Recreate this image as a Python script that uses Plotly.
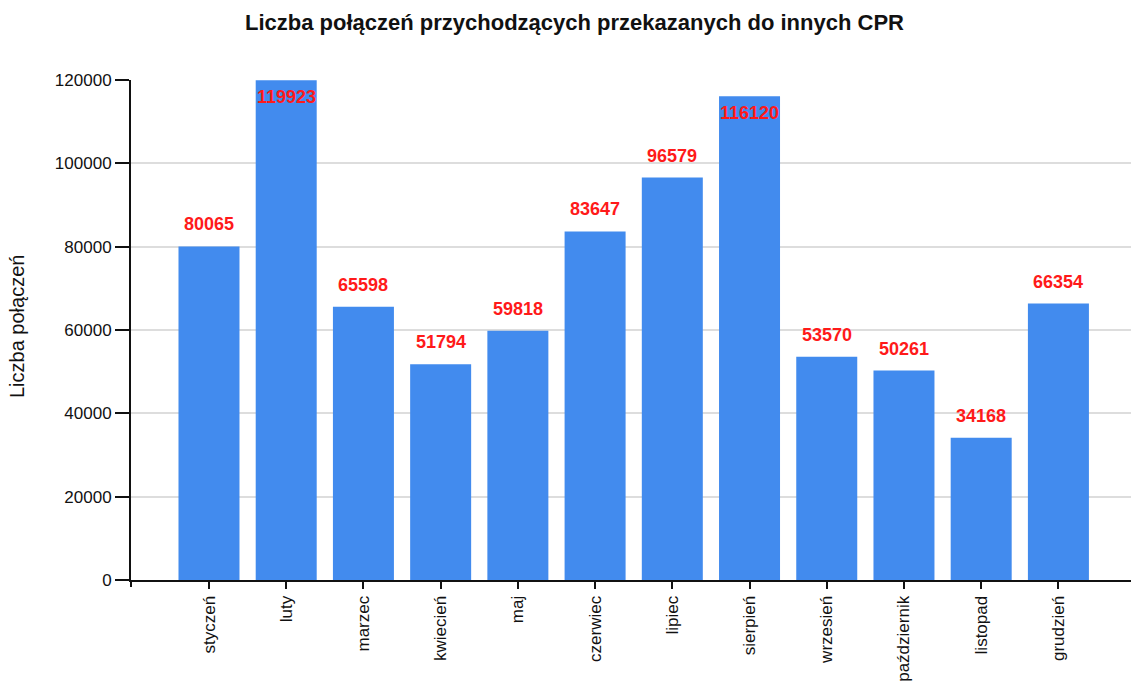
import plotly.graph_objects as go

months = ["styczeń", "luty", "marzec", "kwiecień", "maj", "czerwiec", "lipiec",
          "sierpień", "wrzesień", "październik", "listopad", "grudzień"]
values = [80065, 119923, 65598, 51794, 59818, 83647, 96579, 116120, 53570, 50261, 34168, 66354]
y_ticks = [0, 20000, 40000, 60000, 80000, 100000, 120000]

Y_MAX = 120000
FONT = "Liberation Sans, Arial, sans-serif"

fig = go.Figure()
fig.add_trace(go.Bar(
    x=months, y=values,
    marker=dict(color="#428BEE", line=dict(width=0)),
    hoverinfo="x+y",
))

# value labels: above bar, or inside if it would exceed chart top
for m, v in zip(months, values):
    inside = v > 110000
    fig.add_annotation(
        x=m, y=v, text="<b>%d</b>" % v, showarrow=False,
        yshift=-17 if inside else 22,
        font=dict(family=FONT, size=18, color="#FF1A1A"),
        xanchor="center", yanchor="middle",
    )

# y axis title
fig.add_annotation(
    xref="paper", yref="paper", x=-0.114, y=0.506,
    text="Liczba połączeń", textangle=-90, showarrow=False,
    xanchor="center", yanchor="middle",
    font=dict(family=FONT, size=20, color="#111111"),
)
# outer tick at left end of x axis
fig.add_shape(type="line", xref="paper", yref="paper",
              x0=0, x1=0, y0=0, y1=-7 / 500,
              line=dict(color="#111111", width=2))

fig.update_layout(
    width=1131, height=699,
    margin=dict(l=131, r=0, t=80, b=119, autoexpand=False),
    paper_bgcolor="white", plot_bgcolor="white",
    bargap=0.21,
    showlegend=False,
    title=dict(
        text="<b>Liczba połączeń przychodzących przekazanych do innych CPR</b>",
        x=574.5 / 1131, xanchor="center", y=1 - 22 / 699, yanchor="middle",
        font=dict(family=FONT, size=22, color="#111111"),
    ),
    font=dict(family=FONT, size=17, color="#111111"),
)

fig.update_xaxes(
    type="category",
    range=[-1.01, 11.94],
    tickangle=-90,
    ticks="outside", ticklen=7, tickcolor="#111111", tickwidth=2,
    showline=True, linecolor="#111111", linewidth=2,
    showgrid=False, automargin=False,
    tickfont=dict(family=FONT, size=17, color="#111111"),
)
fig.update_yaxes(
    range=[0, Y_MAX],
    tickvals=y_ticks,
    ticktext=[str(t) for t in y_ticks],
    ticks="outside", ticklen=14, tickcolor="#111111", tickwidth=2,
    showline=True, linecolor="#111111", linewidth=2,
    showgrid=True, gridcolor="#DDDDDD", gridwidth=2,
    zeroline=False, automargin=False,
    tickfont=dict(family=FONT, size=17, color="#111111"),
)

fig.write_html(
    "out.html",
    config={"displayModeBar": False},
    post_script="document.body.style.margin='0';document.body.style.overflow='hidden';",
)
